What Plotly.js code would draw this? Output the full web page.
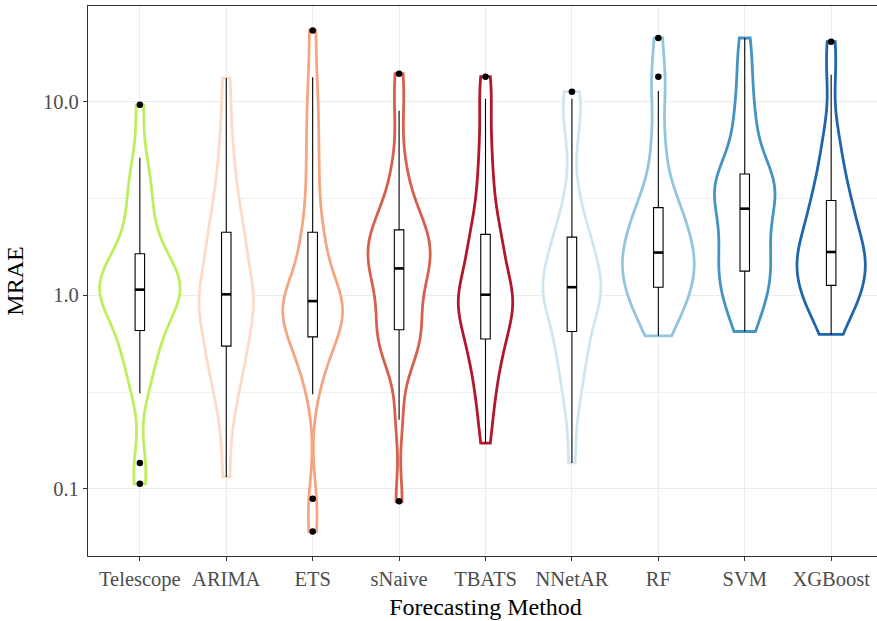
<!DOCTYPE html>
<html>
<head>
<meta charset="utf-8">
<script src="https://cdn.plot.ly/plotly-3.0.1.min.js"></script>
<style>
  html, body { margin: 0; padding: 0; overflow: hidden; background: #ffffff; }
  #chart { position: absolute; left: 0; top: 0; width: 893px; height: 621px; }
</style>
</head>
<body>
<div id="chart"></div>
<script>
// ---- Data (MRAE per forecasting method) ----
const categories = ['Telescope', 'ARIMA', 'ETS', 'sNaive', 'TBATS', 'NNetAR', 'RF', 'SVM', 'XGBoost'];

const telescope = [0.106, 0.136, 0.311, 0.380, 0.457, 0.525, 0.589, 0.658, 0.724, 0.794, 0.871, 0.933, 1.000, 1.035, 1.060, 1.080, 1.122, 1.175, 1.259, 1.349, 1.445, 1.549, 1.640, 1.905, 2.291, 2.754, 3.311, 3.981, 5.150, 9.660];
const arima     = [0.115, 0.200, 0.275, 0.331, 0.389, 0.437, 0.490, 0.546, 0.603, 0.661, 0.724, 0.794, 0.871, 0.944, 1.000, 1.023, 1.122, 1.230, 1.380, 1.549, 1.738, 1.905, 2.120, 2.399, 2.818, 3.388, 4.169, 5.495, 7.943, 13.30];
const ets       = [0.060, 0.0887, 0.308, 0.398, 0.468, 0.525, 0.575, 0.610, 0.661, 0.708, 0.759, 0.813, 0.861, 0.902, 0.923, 0.944, 1.000, 1.096, 1.230, 1.380, 1.585, 1.820, 2.120, 2.630, 3.548, 4.786, 6.607, 9.120, 13.40, 23.40];
const snaive    = [0.0861, 0.2275, 0.398, 0.479, 0.537, 0.589, 0.631, 0.664, 0.741, 0.832, 0.933, 1.047, 1.175, 1.288, 1.349, 1.406, 1.514, 1.622, 1.738, 1.862, 1.995, 2.089, 2.180, 2.399, 2.692, 3.090, 3.715, 5.012, 9.000, 14.00];
const tbats     = [0.172, 0.240, 0.302, 0.363, 0.427, 0.490, 0.550, 0.594, 0.661, 0.724, 0.794, 0.851, 0.912, 0.955, 1.000, 1.014, 1.096, 1.230, 1.380, 1.549, 1.738, 1.905, 2.065, 2.455, 3.020, 3.802, 5.012, 6.918, 10.40, 13.50];
const nnetar    = [0.136, 0.240, 0.316, 0.380, 0.447, 0.513, 0.575, 0.650, 0.724, 0.794, 0.871, 0.955, 1.023, 1.072, 1.091, 1.112, 1.202, 1.318, 1.445, 1.585, 1.738, 1.862, 2.000, 2.291, 2.754, 3.548, 6.310, 8.511, 10.40, 11.30];
const rf        = [0.617, 0.692, 0.776, 0.851, 0.933, 1.000, 1.047, 1.100, 1.175, 1.259, 1.349, 1.445, 1.549, 1.603, 1.641, 1.687, 1.820, 1.995, 2.188, 2.399, 2.570, 2.692, 2.840, 3.311, 3.981, 5.248, 7.079, 11.40, 13.50, 21.40];
const svm       = [0.650, 0.759, 0.871, 0.977, 1.072, 1.175, 1.259, 1.334, 1.479, 1.622, 1.778, 1.950, 2.138, 2.344, 2.692, 2.924, 3.090, 3.311, 3.548, 3.758, 3.981, 4.121, 4.236, 5.012, 6.026, 7.244, 8.913, 11.48, 15.85, 21.40];
const xgboost   = [0.628, 0.724, 0.813, 0.891, 0.977, 1.023, 1.072, 1.125, 1.202, 1.288, 1.380, 1.479, 1.585, 1.641, 1.660, 1.690, 1.862, 2.042, 2.239, 2.455, 2.692, 2.884, 3.090, 3.548, 4.074, 4.786, 5.754, 7.413, 13.80, 20.50];

const yTickValues = [0.1, 1.0, 10.0];
const yTickLabels = ['0.1', '1.0', '10.0'];

// ---- Styles ----
const series = [telescope, arima, ets, snaive, tbats, nnetar, rf, svm, xgboost];
const colors = ['#bdee5e', '#fddbc7', '#f4a582', '#d6604d', '#b2182b', '#d1e5f0', '#92c5de', '#4393c3', '#2166ac'];
const violinWidths = [0.93, 0.63, 0.69, 0.72, 0.63, 0.67, 0.83, 0.70, 0.79];
const BANDWIDTH = 0.13;
const FONT = 'Liberation Serif, Times New Roman, Times, serif';

// the chart uses a log10 value scale (density and box statistics in log space)
const toLog = v => Math.log10(v);
function medianOf(arr) {
  const s = arr.slice().sort((a, b) => a - b);
  const n = s.length;
  return n % 2 ? s[(n - 1) / 2] : (s[n / 2 - 1] + s[n / 2]) / 2;
}

const traces = [];
series.forEach((vals, i) => {
  const y = vals.map(toLog);
  const x = vals.map(() => categories[i]);
  traces.push({
    type: 'violin', x: x, y: y, name: categories[i],
    width: violinWidths[i], scalegroup: categories[i], scalemode: 'width',
    spanmode: 'hard', bandwidth: BANDWIDTH,
    points: false, box: {visible: false}, meanline: {visible: false},
    line: {color: colors[i], width: 2.8}, fillcolor: '#ffffff',
    hoverinfo: 'skip'
  });
});
series.forEach((vals, i) => {
  const y = vals.map(toLog);
  const x = vals.map(() => categories[i]);
  traces.push({
    type: 'box', x: x, y: y, name: categories[i],
    width: 0.11, fillcolor: '#ffffff', line: {color: '#000000', width: 1.1},
    whiskerwidth: 0, boxpoints: 'outliers', pointpos: 0, jitter: 0,
    marker: {color: '#000000', size: 6.5, line: {width: 0}},
    hoverinfo: 'skip'
  });
});
traces.push({
  type: 'scatter', mode: 'markers',
  x: categories, y: series.map(v => medianOf(v.map(toLog))),
  marker: {symbol: 'line-ew', size: 6.8, color: '#000000', line: {color: '#000000', width: 2.6}},
  hoverinfo: 'skip'
});

const layout = {
  width: 893, height: 621,
  margin: {l: 88, r: 10, t: 6, b: 65},
  paper_bgcolor: '#ffffff', plot_bgcolor: '#ffffff',
  showlegend: false,
  violinmode: 'overlay', boxmode: 'overlay',
  font: {family: FONT, color: '#000000'},
  xaxis: {
    type: 'category', categoryorder: 'array', categoryarray: categories,
    range: [-0.6, 8.6],
    showline: true, mirror: true, linecolor: '#333333', linewidth: 1.1,
    ticks: 'outside', ticklen: 4, tickwidth: 1.1, tickcolor: '#333333',
    showgrid: true, gridcolor: '#ebebeb', gridwidth: 1.1, zeroline: false,
    tickfont: {family: FONT, size: 20.5, color: '#4d4d4d'},
    title: {text: 'Forecasting Method', font: {family: FONT, size: 24, color: '#000000'}, standoff: 8}
  },
  yaxis: {
    range: [-1.348, 1.496],
    tickmode: 'array', tickvals: yTickValues.map(toLog), ticktext: yTickLabels,
    minor: {tickmode: 'array', tickvals: [-0.5, 0.5], ticks: '', showgrid: true, gridcolor: '#ebebeb', gridwidth: 0.8},
    showline: true, mirror: true, linecolor: '#333333', linewidth: 1.1,
    ticks: 'outside', ticklen: 4, tickwidth: 1.1, tickcolor: '#333333',
    showgrid: true, gridcolor: '#ebebeb', gridwidth: 1.1, zeroline: false,
    tickfont: {family: FONT, size: 20.5, color: '#4d4d4d'},
    title: {text: 'MRAE', font: {family: FONT, size: 24, color: '#000000'}, standoff: 12}
  }
};

Plotly.newPlot('chart', traces, layout, {displayModeBar: false, staticPlot: true});
</script>
</body>
</html>
